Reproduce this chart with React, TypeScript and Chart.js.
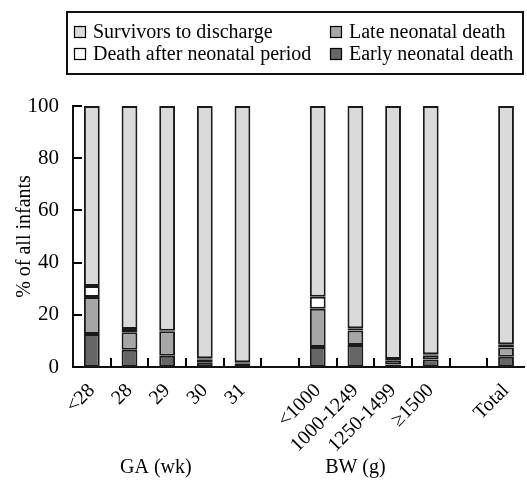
import React, { useEffect, useRef } from "react";
import { Chart, registerables } from "chart.js";

Chart.register(...registerables);

const categories = ["<28", "28", "29", "30", "31", "", "<1000", "1000-1249", "1250-1499", "≥1500", "", "Total"];
const earlyNeonatal = [12.6, 6.6, 4.3, 1.6, 0.8, null, 7.7, 8.4, 1.0, 2.9, null, 3.9];
const lateNeonatal = [14.2, 6.7, 9.4, 1.2, 0.6, null, 14.6, 5.6, 1.6, 1.6, null, 3.6];
const deathAfter = [4.2, 1.3, 0.2, 0.6, 0.4, null, 4.6, 0.8, 0.5, 0.4, null, 1.2];
const survivors = [69.0, 85.4, 86.1, 96.6, 98.2, null, 73.1, 85.2, 96.9, 95.1, null, 91.3];
const yTicks = [0, 20, 40, 60, 80, 100];
const groupLabels = ["GA (wk)", "BW (g)"];
const groupCenters = [1.7, 7.0];

const FONT = "'Liberation Serif', 'Times New Roman', serif";
const COLORS = {
  survivors: "#dadada",
  late: "#a6a6a6",
  after: "#ffffff",
  early: "#666666",
};

function drawTicks(chart: any) {
  const ctx = chart.ctx;
  const xs = chart.scales.x;
  const ys = chart.scales.y;
  ctx.save();
  ctx.globalCompositeOperation = "source-over";
  ctx.globalAlpha = 1;
  ctx.fillStyle = "#000000";
  for (let k = 0; k < yTicks.length; k++) {
    const y = Math.round(ys.getPixelForValue(yTicks[k]));
    ctx.fillRect(xs.left, y - 1, 9, 2);
  }
  for (let i = 0; i < categories.length - 1; i++) {
    const x = Math.round((xs.getPixelForValue(i) + xs.getPixelForValue(i + 1)) / 2);
    ctx.fillRect(x - 1, ys.bottom - 9, 2, 9);
  }
  ctx.restore();
}

const extrasPlugin = {
  id: "extras",
  afterDraw(chart: any) {
    const ctx = chart.ctx;
    const xs = chart.scales.x;
    const ys = chart.scales.y;
    drawTicks(chart);
    ctx.save();
    ctx.fillStyle = "#000";
    ctx.font = `20px ${FONT}`;
    ctx.save();
    ctx.translate(25, (ys.top + ys.bottom) / 2);
    ctx.rotate(-Math.PI / 2);
    ctx.textAlign = "center";
    ctx.textBaseline = "middle";
    ctx.fillText("% of all infants", 0, 0);
    ctx.restore();
    ctx.textAlign = "center";
    ctx.textBaseline = "middle";
    groupLabels.forEach((t, i) => {
      ctx.fillText(t, xs.getPixelForValue(groupCenters[i]), 468);
    });
    ctx.strokeStyle = "#111";
    ctx.lineWidth = 2;
    ctx.strokeRect(67, 12, 456, 62);
    const items = [
      { label: "Survivors to discharge", color: COLORS.survivors, x: 74, y: 32 },
      { label: "Late neonatal death", color: COLORS.late, x: 330, y: 32 },
      { label: "Death after neonatal period", color: COLORS.after, x: 74, y: 54 },
      { label: "Early neonatal death", color: COLORS.early, x: 330, y: 54 },
    ];
    ctx.textAlign = "left";
    items.forEach((it) => {
      ctx.fillStyle = it.color;
      ctx.fillRect(it.x + 0.5, it.y - 6 + 0.5, 11, 11);
      ctx.lineWidth = 1.2;
      ctx.strokeStyle = "#000";
      ctx.strokeRect(it.x + 0.5, it.y - 6 + 0.5, 11, 11);
      ctx.fillStyle = "#000";
      ctx.fillText(it.label, it.x + 19, it.y + 1);
    });
    ctx.restore();
  },
};

export default function App() {
  const ref = useRef<HTMLCanvasElement>(null);
  useEffect(() => {
    document.body.style.margin = "0";
    const mk = (label: string, data: any[], color: string) => ({
      label,
      data,
      backgroundColor: color,
      borderColor: "#1a1a1a",
      borderWidth: 2,
      borderSkipped: false as const,
      barPercentage: 0.42,
      categoryPercentage: 1.0,
    });
    const chart = new Chart(ref.current as HTMLCanvasElement, {
      type: "bar",
      data: {
        labels: categories,
        datasets: [
          mk("Early neonatal death", earlyNeonatal, COLORS.early),
          mk("Late neonatal death", lateNeonatal, COLORS.late),
          mk("Death after neonatal period", deathAfter, COLORS.after),
          mk("Survivors to discharge", survivors, COLORS.survivors),
        ],
      },
      options: {
        animation: false,
        responsive: false,
        layout: { padding: { top: 106, right: 0, bottom: 0, left: 0 } },
        plugins: { legend: { display: false }, tooltip: { enabled: false } },
        scales: {
          x: {
            stacked: true,
            grid: { display: false },
            border: { display: true, color: "#111", width: 2 },
            ticks: {
              color: "#000",
              font: { family: FONT, size: 20 },
              minRotation: 45,
              maxRotation: 45,
              autoSkip: false,
              padding: 4,
            },
            afterFit: (s: any) => {
              s.height = 113;
            },
          },
          y: {
            stacked: true,
            min: 0,
            max: 100,
            grid: { display: false },
            border: { display: true, color: "#111", width: 2 },
            ticks: {
              stepSize: 20,
              color: "#000",
              font: { family: FONT, size: 21 },
              padding: 6,
            },
            afterFit: (s: any) => {
              s.width = 73;
            },
          },
        },
      },
      plugins: [extrasPlugin],
    });
    return () => chart.destroy();
  }, []);
  return (
    <div style={{ position: "absolute", left: 0, top: 0, width: 527, height: 480, background: "#fff" }}>
      <canvas ref={ref} width={527} height={480} style={{ width: 527, height: 480, display: "block" }} />
    </div>
  );
}
